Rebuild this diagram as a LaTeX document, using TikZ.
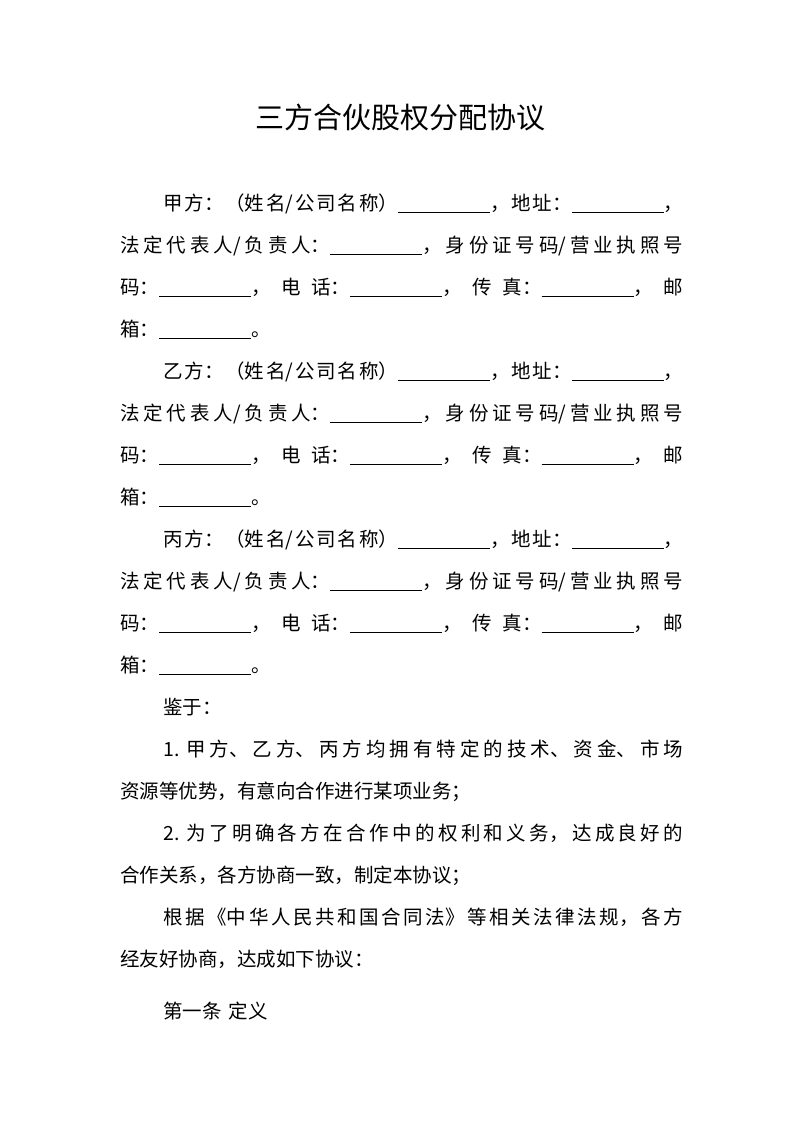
\documentclass[tikz,border=0pt]{standalone}
\usepackage{fontspec}
\setmainfont{Noto Sans CJK SC}
\XeTeXlinebreaklocale "zh"
\XeTeXlinebreakskip=0pt plus 1fil
\newcommand\bl{\raisebox{-3pt}{\rule{92pt}{0.6pt}}}
\newcommand\jf[2]{\parbox[b]{#1pt}{\parindent=0pt\parfillskip=0pt\spaceskip=6pt\relax #2}}
\begin{document}
\begin{tikzpicture}[x=1pt,y=-1pt,
  ln/.style={anchor=base west,inner sep=0pt,font=\fontsize{19.5}{19.5}\selectfont}]
\useasboundingbox[fill=white] (0,0) rectangle (800,1130);
\node[anchor=base,inner sep=0pt,font=\fontsize{29}{29}\selectfont] (t) at (400,128) {三方合伙股权分配协议};
\foreach \n/\y in {甲/210,乙/378,丙/546}{
 \node[ln] (a\n) at (163,\y) {\jf{520}{\n 方：（姓名/公司名称）\bl，地址：\bl，}};
 \node[ln] (b\n) at (120,\y+42) {\jf{563}{法定代表人/负责人：\bl，身份证号码/营业执照号}};
 \node[ln] (c\n) at (120,\y+84) {\jf{563}{码：\bl，电话：\bl，传真：\bl，邮}};
 \node[ln] (d\n) at (120,\y+126) {箱：\bl。};
}
\node[ln] (e1) at (163,714) {鉴于：};
\node[ln] (e2) at (163,756) {\jf{520}{1.\hspace{7pt}甲方、乙方、丙方均拥有特定的技术、资金、市场}};
\node[ln] (e3) at (120,798) {资源等优势，有意向合作进行某项业务；};
\node[ln] (e4) at (163,840) {\jf{520}{2.\hspace{7pt}为了明确各方在合作中的权利和义务，达成良好的}};
\node[ln] (e5) at (120,882) {合作关系，各方协商一致，制定本协议；};
\node[ln] (e6) at (163,924) {\jf{520}{根据《中华人民共和国合同法》等相关法律法规，各方}};
\node[ln] (e7) at (120,966) {经友好协商，达成如下协议：};
\node[ln] (e8) at (163,1018) {第一条\hspace{7pt}定义};
\end{tikzpicture}
\end{document}
